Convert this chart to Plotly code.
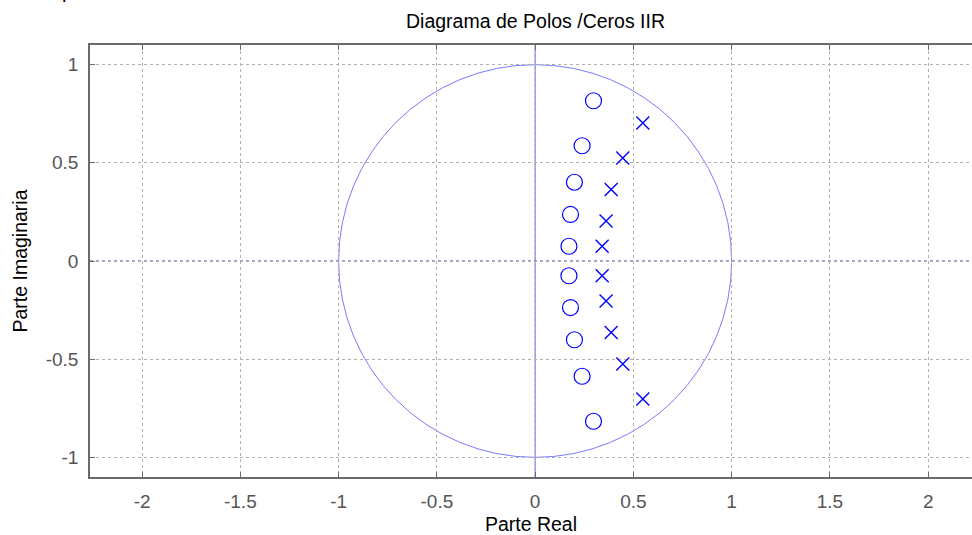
import plotly.graph_objects as go

# Zeros and poles of the IIR filter (complex-conjugate pairs)
zeros_re = [0.297, 0.239, 0.200, 0.180, 0.172, 0.172, 0.180, 0.200, 0.239, 0.297]
zeros_im = [0.816, 0.587, 0.401, 0.237, 0.075, -0.075, -0.237, -0.401, -0.587, -0.816]
poles_re = [0.548, 0.446, 0.387, 0.361, 0.341, 0.341, 0.361, 0.387, 0.446, 0.548]
poles_im = [0.703, 0.525, 0.364, 0.204, 0.075, -0.075, -0.204, -0.364, -0.525, -0.703]

x_ticks = [-2, -1.5, -1, -0.5, 0, 0.5, 1, 1.5, 2]
y_ticks = [-1, -0.5, 0, 0.5, 1]

BLUE = "#0000ff"
FONT = "Liberation Sans, Arial, sans-serif"

fig = go.Figure()

fig.add_trace(go.Scatter(
    x=zeros_re, y=zeros_im, mode="markers",
    marker=dict(symbol="circle-open", size=16, color=BLUE, line=dict(width=1.2, color=BLUE)),
    showlegend=False, hoverinfo="x+y",
))
fig.add_trace(go.Scatter(
    x=poles_re, y=poles_im, mode="markers",
    marker=dict(symbol="x-thin-open", size=13, color=BLUE, line=dict(width=1.4, color=BLUE)),
    showlegend=False, hoverinfo="x+y",
))

# unit circle and the real / imaginary axes
fig.add_shape(type="circle", xref="x", yref="y", x0=-1, y0=-1, x1=1, y1=1,
              line=dict(color="#7a7aff", width=1), layer="below")
fig.add_shape(type="line", xref="paper", yref="y", x0=0, x1=1, y0=0, y1=0,
              line=dict(color="#3a3aaa", width=1, dash="dot"), layer="below")
fig.add_shape(type="line", xref="x", yref="paper", x0=0, x1=0, y0=0, y1=1,
              line=dict(color="#5a5aff", width=1), layer="below")

axis_common = dict(
    showgrid=True, gridcolor="#b0b0b0", griddash="dot", gridwidth=1,
    zeroline=False, showline=True, linecolor="#6a6a6a", linewidth=1.5,
    ticks="inside", ticklen=5, tickcolor="#6a6a6a",
    tickfont=dict(family=FONT, size=19, color="#555555"),
)

fig.update_layout(
    width=972, height=535,
    margin=dict(l=90, r=0, t=45, b=58),
    paper_bgcolor="white", plot_bgcolor="white",
    xaxis=dict(range=[-2.265, 2.223], tickvals=x_ticks,
               ticktext=[f"{v:g}" for v in x_ticks], mirror="ticks",
               ticklabelstandoff=6,
               title=dict(text="Parte Real", font=dict(family=FONT, size=19.5, color="black"), standoff=7),
               **axis_common),
    yaxis=dict(range=[-1.1, 1.1], tickvals=y_ticks,
               ticktext=[f"{v:g}" for v in y_ticks],
               ticklabelstandoff=6,
               title=dict(text="Parte Imaginaria", font=dict(family=FONT, size=19.5, color="black"), standoff=13),
               **axis_common),
    annotations=[
        dict(text="Diagrama de Polos /Ceros IIR", x=0, xref="x", y=1.0, yref="paper",
             yanchor="bottom", yshift=11, showarrow=False,
             font=dict(family=FONT, size=19.5, color="black")),
        dict(text="p", x=-0.025, xref="paper", y=1.0, yref="paper",
             xanchor="center", yanchor="bottom", yshift=41, showarrow=False,
             font=dict(family=FONT, size=20, color="black")),
    ],
)

fig.write_html("out.html")
